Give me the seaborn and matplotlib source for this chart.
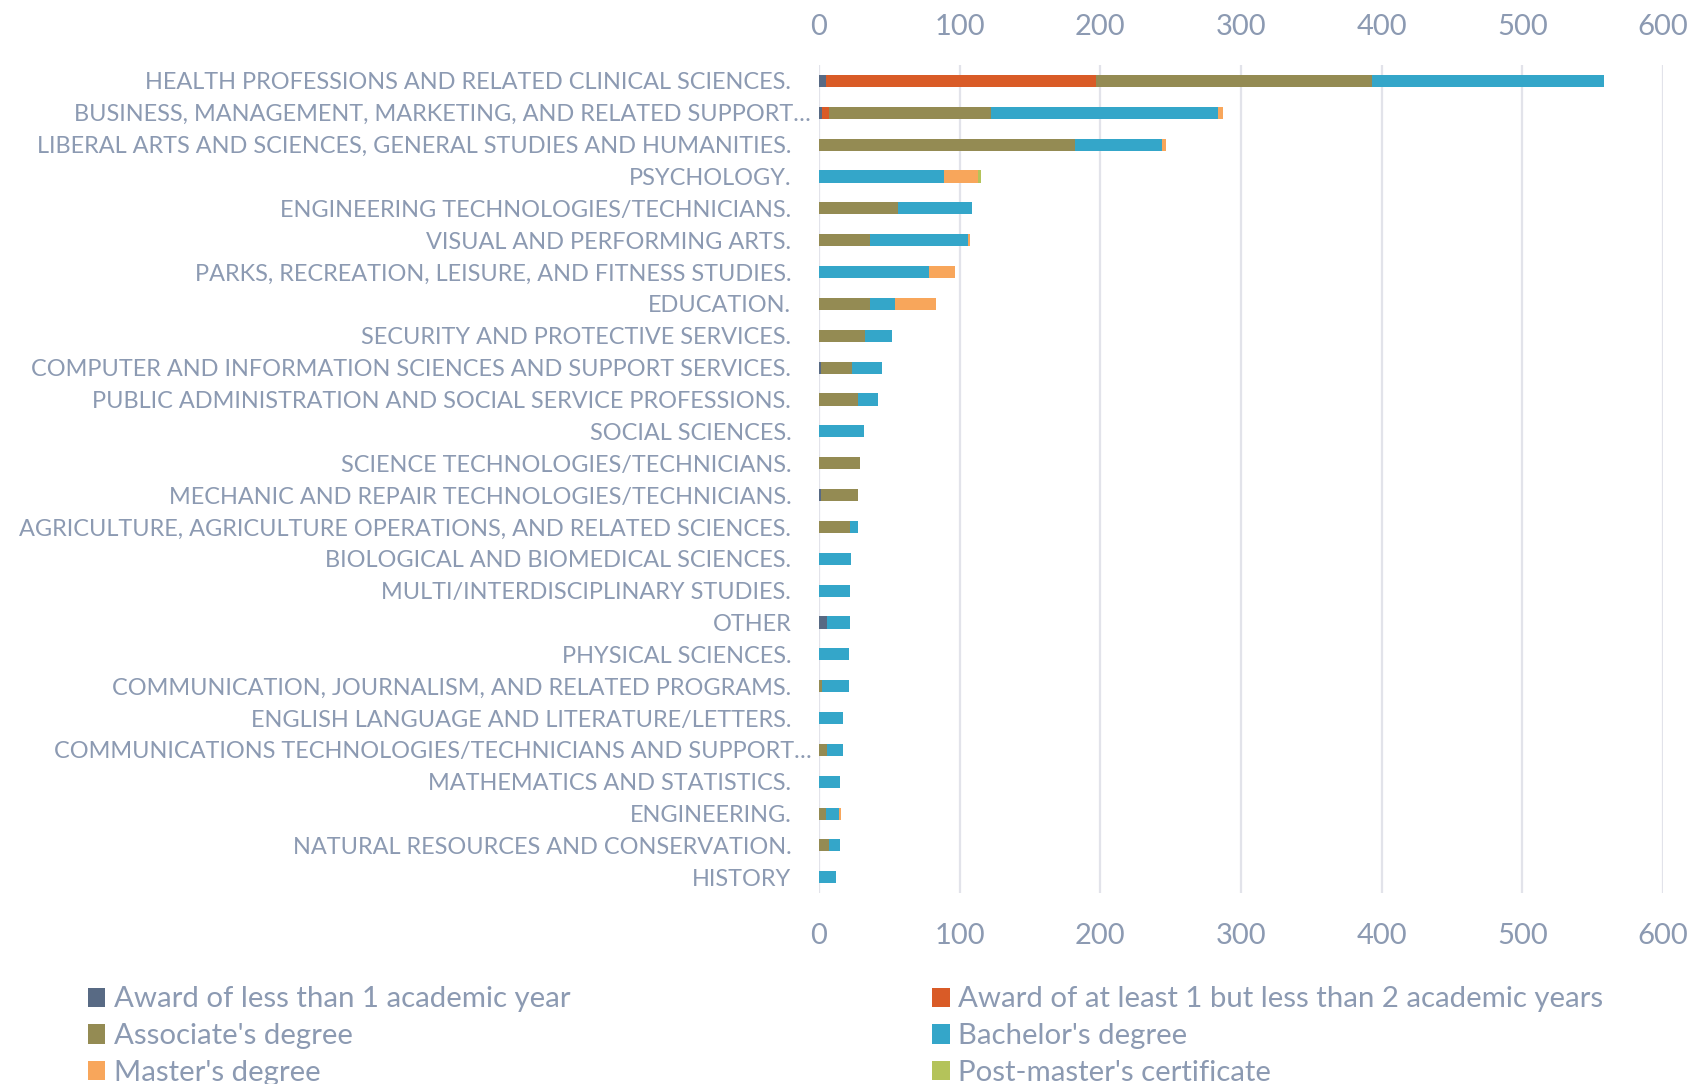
import numpy as np
import pandas as pd
import seaborn as sns
import matplotlib
matplotlib.use("Agg")
import matplotlib.pyplot as plt
from matplotlib.patches import Patch
from matplotlib.transforms import ScaledTranslation
from matplotlib import font_manager as fm

categories = [
    "HEALTH PROFESSIONS AND RELATED CLINICAL SCIENCES.",
    "BUSINESS, MANAGEMENT, MARKETING, AND RELATED SUPPORT\u2026",
    "LIBERAL ARTS AND SCIENCES, GENERAL STUDIES AND HUMANITIES.",
    "PSYCHOLOGY.",
    "ENGINEERING TECHNOLOGIES/TECHNICIANS.",
    "VISUAL AND PERFORMING ARTS.",
    "PARKS, RECREATION, LEISURE, AND FITNESS STUDIES.",
    "EDUCATION.",
    "SECURITY AND PROTECTIVE SERVICES.",
    "COMPUTER AND INFORMATION SCIENCES AND SUPPORT SERVICES.",
    "PUBLIC ADMINISTRATION AND SOCIAL SERVICE PROFESSIONS.",
    "SOCIAL SCIENCES.",
    "SCIENCE TECHNOLOGIES/TECHNICIANS.",
    "MECHANIC AND REPAIR TECHNOLOGIES/TECHNICIANS.",
    "AGRICULTURE, AGRICULTURE OPERATIONS, AND RELATED SCIENCES.",
    "BIOLOGICAL AND BIOMEDICAL SCIENCES.",
    "MULTI/INTERDISCIPLINARY STUDIES.",
    "OTHER",
    "PHYSICAL SCIENCES.",
    "COMMUNICATION, JOURNALISM, AND RELATED PROGRAMS.",
    "ENGLISH LANGUAGE AND LITERATURE/LETTERS.",
    "COMMUNICATIONS TECHNOLOGIES/TECHNICIANS AND SUPPORT\u2026",
    "MATHEMATICS AND STATISTICS.",
    "ENGINEERING.",
    "NATURAL RESOURCES AND CONSERVATION.",
    "HISTORY",
]

award_lt1 = [5, 2, 0, 0, 0, 0, 0, 0, 0, 1.5, 0, 0, 0, 1.5, 0, 0, 0, 6, 0, 0, 0, 0, 0, 0, 0, 0]
award_1to2 = [192, 5, 0, 0, 0, 0, 0, 0, 0, 0, 0, 0, 0, 0, 0, 0, 0, 0, 0, 0, 0, 0, 0, 0, 0, 0]
associate = [196, 115, 182, 0, 56.5, 36, 0, 36, 33, 22, 28, 0, 29, 26, 22, 0, 0, 0, 0, 2, 0, 6, 0, 5, 7, 0]
bachelor = [165, 162, 62, 89, 52, 70, 78, 18, 19, 21, 14, 32, 0, 0, 6, 23, 22, 16, 21, 19, 17, 11, 15, 9, 8, 12]
master = [0, 3, 3, 24, 0, 1, 19, 29, 0, 0, 0, 0, 0, 0, 0, 0, 0, 0, 0, 0, 0, 0, 0, 1.5, 0, 0]
post_master = [0, 0, 0, 2, 0, 0, 0, 0, 0, 0, 0, 0, 0, 0, 0, 0, 0, 0, 0, 0, 0, 0, 0, 0, 0, 0]

series_names = [
    "Award of less than 1 academic year",
    "Award of at least 1 but less than 2 academic years",
    "Associate's degree",
    "Bachelor's degree",
    "Master's degree",
    "Post-master's certificate",
]
colors = ["#586a84", "#d95b27", "#948b53", "#34a6c9", "#f8a65b", "#b4c35a"]
x_ticks = [0, 100, 200, 300, 400, 500, 600]

sns.set_theme(style="white")
available = {f.name for f in fm.fontManager.ttflist}
font = "Lato" if "Lato" in available else "DejaVu Sans"
plt.rcParams["font.family"] = [font, "DejaVu Sans"]

text_color = "#8c9ab2"

fig = plt.figure(figsize=(17.07, 10.84), dpi=100)
ax = fig.add_axes([0.4798, 0.176, 0.4944, 0.764])

series = [award_lt1, award_1to2, associate, bachelor, master, post_master]
cum = np.cumsum(np.array(series, dtype=float), axis=0)
df = pd.DataFrame({"category": categories})
for i in range(len(series) - 1, -1, -1):
    df["v"] = cum[i]
    sns.barplot(data=df, x="v", y="category", color=colors[i], width=0.38,
                orient="h", ax=ax, saturation=1, linewidth=0, zorder=3)

ax.set_xlim(0, 600)
ax.set_ylim(len(categories) - 0.5, -0.5)
ax.set_xticks(x_ticks)
ax.set_xticklabels([str(t) for t in x_ticks])
ax.set_xlabel("")
ax.set_ylabel("")
ax.grid(axis="x", color="#e2e3ea", linewidth=1.6, zorder=0)
ax.set_axisbelow(True)
for s in ax.spines.values():
    s.set_visible(False)
ax.tick_params(axis="x", top=True, labeltop=True, bottom=True, labelbottom=True,
               length=0, pad=20, labelsize=21, labelcolor=text_color)
ax.tick_params(axis="y", length=0, pad=20, labelsize=16.9, labelcolor=text_color)

shift_down = ScaledTranslation(0, -2.5 / 100, fig.dpi_scale_trans)
for tick in ax.xaxis.get_major_ticks():
    tick.label1.set_transform(tick.label1.get_transform() + shift_down)
    tick.label2.set_transform(tick.label2.get_transform() + shift_down)

for lab in ax.get_yticklabels():
    if lab.get_text().endswith("\u2026"):
        lab.set_transform(lab.get_transform() + ScaledTranslation(20 / 100, 0, fig.dpi_scale_trans))

order = [0, 2, 4, 1, 3, 5]
handles = [Patch(facecolor=colors[i], edgecolor="none", label=series_names[i]) for i in order]
leg = fig.legend(handles=handles, ncol=2, loc="upper left", bbox_to_anchor=(0.0515, 0.09),
                 frameon=False, fontsize=21.2, labelcolor=text_color, handlelength=0.58,
                 handleheight=0.62, handletextpad=0.3, columnspacing=12.3, labelspacing=0.37,
                 borderaxespad=0, borderpad=0)
fig.savefig("out.png", dpi=100)
